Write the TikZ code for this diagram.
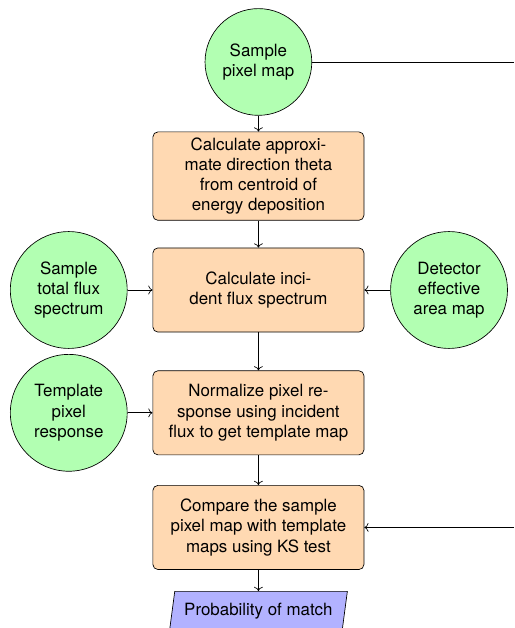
\documentclass[tikz,border=0pt]{standalone}
\usepackage{fontspec}
\setmainfont{TeX Gyre Heros}
\usetikzlibrary{arrows.meta,positioning,shapes.geometric}
\tikzset{
  source/.style={draw=black, circle, fill=green!30, align=center, minimum size=2.43cm, inner sep=1pt},
  process/.style={draw=black, rectangle, rounded corners=3pt, fill=orange!30, align=center, minimum width=4.39cm, minimum height=1.75cm},
  result/.style={draw=black, trapezium, trapezium left angle=79, trapezium right angle=101, trapezium stretches body, fill=blue!30, align=center, minimum width=3.7cm, minimum height=0.83cm},
  flow/.style={->, draw=black}
}

\begin{document}
\begin{tikzpicture}
  \coordinate (tl) at (0,0);
  \coordinate (br) at (10.69,-13.06);
  \useasboundingbox (tl) rectangle (br);

  \node[source, minimum size=2.22cm] (pixmap) at (5.374,-1.289) {Sample\\pixel map};
  \node[process, below=0.33cm of pixmap] (theta) {Calculate approxi-\\mate direction theta\\from centroid of\\energy deposition};
  \node[process, below=0.56cm of theta] (flux) {Calculate inci-\\dent flux spectrum};
  \node[process, below=0.79cm of flux] (norm) {Normalize pixel re-\\sponse using incident\\flux to get template map};
  \node[process, below=0.62cm of norm] (compare) {Compare the sample\\pixel map with template\\maps using KS test};
  \node[result, below=0.44cm of compare] (match) {Probability of match};

  \node[source, left=0.52cm of flux] (totflux) {Sample\\total flux\\spectrum};
  \node[source, right=0.54cm of flux] (effarea) {Detector\\effective\\area map};
  \node[source, left=0.52cm of norm] (tmplpix) {Template\\pixel\\response};

  \coordinate (mapout) at (pixmap -| br);
  \coordinate (mapin) at (compare -| br);

  \draw[flow] (pixmap) -- (theta);
  \draw[flow] (theta) -- (flux);
  \draw[flow] (flux) -- (norm);
  \draw[flow] (norm) -- (compare);
  \draw[flow] (compare) -- (match);
  \draw[flow] (totflux) -- (flux);
  \draw[flow] (effarea) -- (flux);
  \draw[flow] (tmplpix) -- (norm);
  \draw (pixmap) -- (mapout);
  \draw[flow] (mapin) -- (compare);
\end{tikzpicture}
\end{document}
